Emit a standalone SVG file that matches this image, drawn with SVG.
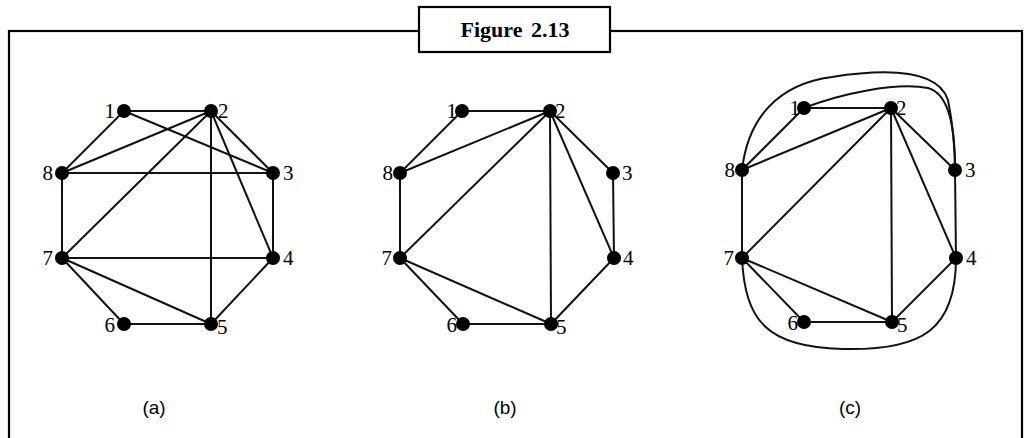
<svg xmlns="http://www.w3.org/2000/svg" width="1024" height="438" viewBox="0 0 1024 438">
<style>
.frame{fill:none;stroke:#000;stroke-width:2.2}
.tbox{fill:#fff;stroke:#000;stroke-width:2.2}
.title{font-family:"Liberation Serif",serif;font-weight:bold;font-size:22px;text-anchor:middle;word-spacing:3px}
.cap{font-family:"Liberation Sans",sans-serif;font-size:19px;text-anchor:middle}
.e line,.e path{stroke:#111;stroke-width:2;fill:none}
.n circle{fill:#000}
.n text{font-family:"Liberation Serif",serif;font-size:21px;fill:#000}
.l{text-anchor:end}
</style>
<rect class="frame" x="9" y="31" width="1013" height="430"/>
<g id="title"><rect class="tbox" x="419" y="7" width="191" height="45"/><text class="title" x="515" y="37">Figure 2.13</text></g>

<g id="edges-a" class="e">
<line x1="124" y1="111" x2="211" y2="111"/>
<line x1="124" y1="111" x2="62" y2="173"/>
<line x1="124" y1="111" x2="273" y2="173"/>
<line x1="211" y1="111" x2="62" y2="173"/>
<line x1="211" y1="111" x2="62" y2="258"/>
<line x1="211" y1="111" x2="273" y2="173"/>
<line x1="211" y1="111" x2="273" y2="258"/>
<line x1="211" y1="111" x2="211" y2="324"/>
<line x1="62" y1="173" x2="273" y2="173"/>
<line x1="62" y1="173" x2="62" y2="258"/>
<line x1="273" y1="173" x2="273" y2="258"/>
<line x1="62" y1="258" x2="273" y2="258"/>
<line x1="62" y1="258" x2="124" y2="324"/>
<line x1="62" y1="258" x2="211" y2="324"/>
<line x1="124" y1="324" x2="211" y2="324"/>
<line x1="273" y1="258" x2="211" y2="324"/>
</g>
<g id="edges-b" class="e">
<line x1="462" y1="111" x2="550" y2="111"/>
<line x1="462" y1="111" x2="400" y2="173"/>
<line x1="550" y1="111" x2="400" y2="173"/>
<line x1="550" y1="111" x2="400" y2="258"/>
<line x1="550" y1="111" x2="551" y2="324"/>
<line x1="550" y1="111" x2="614" y2="258"/>
<line x1="550" y1="111" x2="613" y2="173"/>
<line x1="613" y1="173" x2="614" y2="258"/>
<line x1="400" y1="173" x2="400" y2="258"/>
<line x1="400" y1="258" x2="463" y2="324"/>
<line x1="400" y1="258" x2="551" y2="324"/>
<line x1="463" y1="324" x2="551" y2="324"/>
<line x1="551" y1="324" x2="614" y2="258"/>
</g>
<g id="edges-c" class="e">
<line x1="804" y1="108" x2="891" y2="108"/>
<line x1="804" y1="108" x2="742" y2="170"/>
<line x1="891" y1="108" x2="742" y2="170"/>
<line x1="891" y1="108" x2="742" y2="258"/>
<line x1="891" y1="108" x2="892" y2="322"/>
<line x1="891" y1="108" x2="956" y2="258"/>
<line x1="891" y1="108" x2="955" y2="170"/>
<line x1="955" y1="170" x2="956" y2="258"/>
<line x1="742" y1="170" x2="742" y2="258"/>
<line x1="742" y1="258" x2="804" y2="322"/>
<line x1="742" y1="258" x2="892" y2="322"/>
<line x1="804" y1="322" x2="892" y2="322"/>
<line x1="892" y1="322" x2="956" y2="258"/>
<path d="M804,108 C840,94 895,82 928,88 C950,94 955,130 955,170"/>
<path d="M742,170 C748,118 778,84 832,77 C890,68 938,70 948,100 C953,125 955,150 955,170"/>
<path d="M742,258 C745,322 768,347 842,349 C922,351 956,330 956,258"/>
</g>

<g id="nodes-a" class="n">
<g id="a1"><circle cx="124" cy="111" r="7"/><text class="l" x="115" y="118">1</text></g>
<g id="a2"><circle cx="211" cy="111" r="7"/><text x="218" y="118">2</text></g>
<g id="a3"><circle cx="273" cy="173" r="7"/><text x="283" y="180">3</text></g>
<g id="a4"><circle cx="273" cy="258" r="7"/><text x="283" y="265">4</text></g>
<g id="a5"><circle cx="211" cy="324" r="7"/><text x="217" y="334">5</text></g>
<g id="a6"><circle cx="124" cy="324" r="7"/><text class="l" x="115" y="332">6</text></g>
<g id="a7"><circle cx="62" cy="258" r="7"/><text class="l" x="53" y="265">7</text></g>
<g id="a8"><circle cx="62" cy="173" r="7"/><text class="l" x="53" y="180">8</text></g>
</g>
<g id="nodes-b" class="n">
<g id="b1"><circle cx="462" cy="111" r="7"/><text class="l" x="457" y="118">1</text></g>
<g id="b2"><circle cx="550" cy="111" r="7"/><text x="555" y="118">2</text></g>
<g id="b3"><circle cx="613" cy="173" r="7"/><text x="622" y="180">3</text></g>
<g id="b4"><circle cx="614" cy="258" r="7"/><text x="623" y="265">4</text></g>
<g id="b5"><circle cx="551" cy="324" r="7"/><text x="556" y="334">5</text></g>
<g id="b6"><circle cx="463" cy="324" r="7"/><text class="l" x="457" y="332">6</text></g>
<g id="b7"><circle cx="400" cy="258" r="7"/><text class="l" x="392" y="265">7</text></g>
<g id="b8"><circle cx="400" cy="173" r="7"/><text class="l" x="393" y="180">8</text></g>
</g>
<g id="nodes-c" class="n">
<g id="c1"><circle cx="804" cy="108" r="7"/><text class="l" x="800" y="115">1</text></g>
<g id="c2"><circle cx="891" cy="108" r="7"/><text x="896" y="115">2</text></g>
<g id="c3"><circle cx="955" cy="170" r="7"/><text x="965" y="177">3</text></g>
<g id="c4"><circle cx="956" cy="258" r="7"/><text x="966" y="265">4</text></g>
<g id="c5"><circle cx="892" cy="322" r="7"/><text x="897" y="332">5</text></g>
<g id="c6"><circle cx="804" cy="322" r="7"/><text class="l" x="798" y="330">6</text></g>
<g id="c7"><circle cx="742" cy="258" r="7"/><text class="l" x="734" y="265">7</text></g>
<g id="c8"><circle cx="742" cy="170" r="7"/><text class="l" x="735" y="177">8</text></g>
</g>

<text class="cap" x="154" y="414">(a)</text>
<text class="cap" x="505" y="414">(b)</text>
<text class="cap" x="850" y="414">(c)</text>
</svg>
